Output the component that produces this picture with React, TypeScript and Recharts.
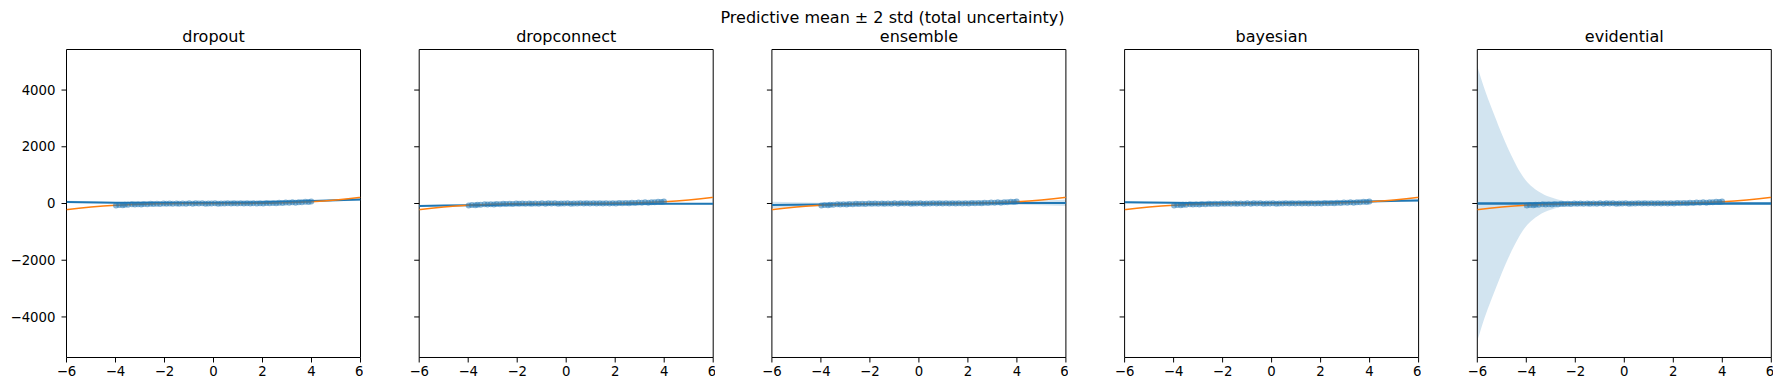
import React from 'react';
import { ComposedChart, Line, Area, Scatter, XAxis, YAxis, ReferenceArea } from 'recharts';

const methods = ['dropout', 'dropconnect', 'ensemble', 'bayesian', 'evidential'];
const xTicks = [-6, -4, -2, 0, 2, 4, 6];
const yTicks = [-4000, -2000, 0, 2000, 4000];
const yDomain = [-5430, 5430];

// ground truth (orange)
const truthX = [-6, -5.5, -5, -4.5, -4, -3.5, -3, -2.5, -2, -1.5, -1, -0.5, 0, 0.5, 1, 1.5, 2, 2.5, 3, 3.5, 4, 4.5, 5, 5.5, 6];
const truthY = [-216, -166.4, -125, -91.1, -64, -42.9, -27, -15.6, -8, -3.4, -1, -0.1, 0, 0.1, 1, 3.4, 8, 15.6, 27, 42.9, 64, 91.1, 125, 166.4, 216];

// predictive mean per method
const meanX = [-6, -4, -2, 0, 2, 4, 6];
const meanDropout = [55, 30, 15, 20, 45, 85, 140];
const meanDropconnect = [-85, -60, -35, -15, -5, -5, -10];
const meanEnsemble = [-50, -35, -20, -5, 5, 15, 20];
const meanBayesian = [45, 25, 10, 15, 35, 70, 110];
const meanEvidential = [0, 0, 0, 0, 0, 0, 0];

// 2 std half widths
const halfDropout = [40, 25, 15, 12, 15, 25, 40];
const halfDropconnect = [30, 20, 12, 10, 12, 20, 30];
const halfEnsemble = [110, 60, 25, 15, 25, 60, 110];
const halfBayesian = [40, 25, 15, 12, 15, 25, 40];
const evX = [-6, -5.75, -5.5, -5.25, -5, -4.75, -4.5, -4.25, -4, -3.75, -3.5, -3.25, -3, -2.75, -2.5, -2.25, -2, -1, 0, 2, 4, 6];
const evHalf = [4850, 4150, 3550, 3000, 2450, 1950, 1500, 1100, 790, 580, 420, 300, 220, 150, 100, 70, 50, 35, 30, 30, 30, 35];

// training points
const trainX = [-3.98, -3.85, -3.71, -3.62, -3.49, -3.33, -3.21, -3.08, -2.95, -2.84, -2.7, -2.57, -2.45, -2.31, -2.18, -2.04, -1.92, -1.79, -1.66, -1.51, -1.4, -1.26, -1.12, -0.99, -0.85, -0.73, -0.6, -0.46, -0.33, -0.21, -0.08, 0.06, 0.19, 0.31, 0.45, 0.58, 0.72, 0.84, 0.97, 1.11, 1.24, 1.37, 1.5, 1.63, 1.77, 1.9, 2.03, 2.16, 2.29, 2.43, 2.56, 2.68, 2.82, 2.95, 3.09, 3.22, 3.35, 3.48, 3.61, 3.75, 3.88, 3.99];
const trainY = [-70, -52, -58, -41, -48, -30, -39, -24, -32, -17, -25, -11, -19, -6, -15, -3, -12, 1, -9, 3, -7, 4, -6, 5, -5, 6, -4, 5, -6, 4, -3, 6, -5, 3, -4, 7, -3, 5, -4, 6, -3, 8, -2, 9, 0, 12, 2, 15, 5, 19, 9, 25, 15, 31, 23, 40, 30, 48, 40, 58, 52, 68];

const means = [meanDropout, meanDropconnect, meanEnsemble, meanBayesian, meanEvidential];
const halves = [halfDropout, halfDropconnect, halfEnsemble, halfBayesian];

const C0 = '#1f77b4';
const C1 = '#ff7f0e';
const FONT = 'DejaVu Sans';

const truthData = truthX.map((x, i) => ({ x, y: truthY[i] }));
const trainData = trainX.map((x, i) => ({ x, y: trainY[i] }));

const bandFor = (k: number) => {
  if (k === 4) return evX.map((x, i) => ({ x, band: [-evHalf[i], evHalf[i]] }));
  return meanX.map((x, i) => ({ x, band: [means[k][i] - halves[k][i], means[k][i] + halves[k][i]] }));
};

const fmt = (v: number) => (v < 0 ? '\u2212' + Math.abs(v) : String(v));

const PANEL_W = 294;
const PANEL_TOP = 49.5;
const PANEL_H = 308;
const panelLeft = (k: number) => 66.5 + k * 352.7;

const Panel: React.FC<{ k: number }> = ({ k }) => {
  const yW = k === 0 ? 60 : 10;
  const pl = panelLeft(k);
  const divLeft = Math.floor(pl) - yW;
  const extra = pl - Math.floor(pl);
  const width = yW + extra + PANEL_W + 2;
  const meanData = meanX.map((x, i) => ({ x, y: means[k][i] }));
  return (
    <div style={{ position: 'absolute', left: divLeft, top: 0 }}>
      <ComposedChart
        width={width}
        height={391}
        margin={{ top: PANEL_TOP, right: 2, bottom: 391 - 30 - PANEL_TOP - PANEL_H, left: extra }}
      >
        <XAxis
          dataKey="x"
          type="number"
          domain={[-6, 6]}
          ticks={xTicks}
          allowDataOverflow
          tickFormatter={fmt}
          axisLine={false}
          tickSize={5}
          tickMargin={4}
          tickLine={{ stroke: '#000' }}
          tick={{ fill: '#000', fontSize: 13.3, fontFamily: FONT }}
          height={30}
        />
        <YAxis
          type="number"
          domain={yDomain}
          ticks={yTicks}
          allowDataOverflow
          tickFormatter={k === 0 ? fmt : () => ''}
          axisLine={false}
          tickSize={5}
          tickMargin={6}
          tickLine={{ stroke: '#000' }}
          tick={{ fill: '#000', fontSize: 13.3, fontFamily: FONT }}
          width={yW}
        />
        <Area
          data={bandFor(k)}
          dataKey="band"
          type="monotone"
          stroke="none"
          fill={C0}
          fillOpacity={0.2}
          isAnimationActive={false}
        />
        <Line
          data={meanData}
          dataKey="y"
          type="monotone"
          stroke={C0}
          strokeWidth={k === 4 ? 2.6 : 2}
          dot={false}
          isAnimationActive={false}
        />
        <Scatter
          data={trainData}
          dataKey="y"
          fill={C0}
          isAnimationActive={false}
          shape={(p: any) => <circle cx={p.cx} cy={p.cy} r={3} fill={C0} fillOpacity={0.55} />}
        />
        <Line
          data={truthData}
          dataKey="y"
          type="monotone"
          stroke={C1}
          strokeWidth={1.5}
          dot={false}
          isAnimationActive={false}
        />
        <ReferenceArea x1={-6} x2={6} y1={yDomain[0]} y2={yDomain[1]} fill="none" stroke="#000" strokeWidth={1} />
      </ComposedChart>
    </div>
  );
};

export default function App() {
  return (
    <div style={{ position: 'absolute', left: 0, top: 0, width: 1785, height: 391, background: '#fff', overflow: 'hidden' }}>
      {methods.map((m, k) => (
        <Panel key={m} k={k} />
      ))}
      <svg width={1785} height={391} style={{ position: 'absolute', left: 0, top: 0, pointerEvents: 'none' }}>
        <text x={892.5} y={23} textAnchor="middle" fontFamily={FONT} fontSize={16} fill="#000">
          Predictive mean ± 2 std (total uncertainty)
        </text>
        {methods.map((m, k) => (
          <text key={m} x={panelLeft(k) + PANEL_W / 2} y={41.5} textAnchor="middle" fontFamily={FONT} fontSize={16} fill="#000">
            {m}
          </text>
        ))}
      </svg>
    </div>
  );
}
